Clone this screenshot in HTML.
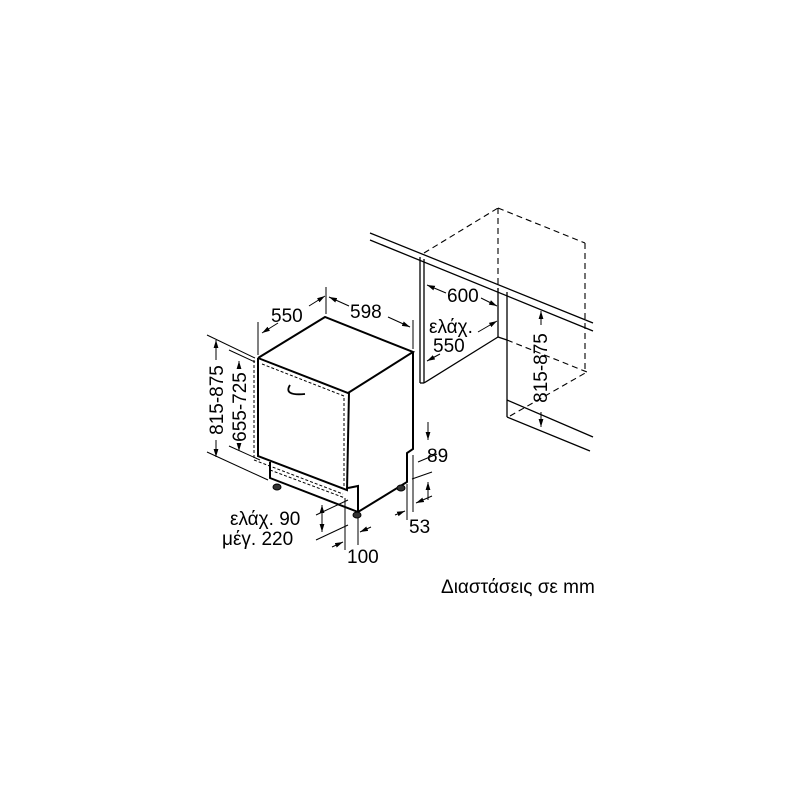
<!DOCTYPE html>
<html><head><meta charset="utf-8"><style>body{margin:0;background:#fff}svg{display:block}</style></head><body>
<svg width="800" height="800" viewBox="0 0 800 800" xmlns="http://www.w3.org/2000/svg" font-family="Liberation Sans, sans-serif" font-size="19" fill="none" stroke="#000">
<defs><marker id="a" viewBox="0 0 10 10" refX="10" refY="5" markerWidth="8" markerHeight="8" orient="auto-start-reverse"><path d="M0,2 L10,5 L0,8z" fill="#000" stroke="none"/></marker></defs>
<g stroke-width="1.3">
<line x1="370" y1="233" x2="593" y2="323"/>
<line x1="370" y1="240" x2="593" y2="331"/>
<line x1="420" y1="257" x2="420" y2="383"/>
<line x1="424" y1="259" x2="424" y2="383"/>
<line x1="420" y1="383" x2="424" y2="383"/>
<line x1="424" y1="383" x2="498" y2="337"/>
<line x1="498" y1="288" x2="498" y2="337"/>
<line x1="507" y1="292" x2="507" y2="400"/>
<line x1="498" y1="337" x2="507" y2="340"/>
<line x1="507" y1="400" x2="593" y2="437"/>
<line x1="507" y1="400" x2="507" y2="417"/>
<line x1="507" y1="417" x2="590" y2="451"/>
</g>
<g stroke-width="1.1" stroke-dasharray="6,4">
<line x1="424" y1="253" x2="498" y2="208"/>
<line x1="498" y1="208" x2="585" y2="243"/>
<line x1="498" y1="208" x2="498" y2="290"/>
<line x1="585" y1="243" x2="585" y2="372"/>
<line x1="507" y1="340" x2="587" y2="372"/>
<line x1="510" y1="416" x2="587" y2="372"/>
</g>
<g stroke-width="2">
<polyline points="258,358 325,317 413,352 348,393 258,358"/>
<polyline points="258,358 258,456 347,490 349,392"/>
<polyline points="413,352 413,449 407,453 407,482 358,512 358,486 348,488"/>
<polyline points="270,462 270,478 358,512"/>
</g>
<g stroke-width="1" stroke-dasharray="3,2">
<polyline points="254,360 254,460 343,494"/>
<polyline points="262,364 344,396 344,486"/>
<line x1="270" y1="470" x2="345" y2="498"/>
</g>
<path d="M290,385 Q283,396 305,394" stroke-width="1.8"/>
<g fill="#333" stroke="#000" stroke-width="1"><ellipse cx="277" cy="487" rx="4" ry="3"/><ellipse cx="357" cy="515" rx="4" ry="3"/><ellipse cx="401" cy="488" rx="4" ry="3"/></g>
<g stroke-width="1">
<line x1="258" y1="355" x2="258" y2="322"/><line x1="326" y1="314" x2="326" y2="287"/><line x1="413" y1="349" x2="413" y2="320"/>
<line x1="262" y1="333" x2="278" y2="323" marker-start="url(#a)"/><line x1="309" y1="306" x2="325" y2="296" marker-end="url(#a)"/>
<line x1="329" y1="297" x2="349" y2="306" marker-start="url(#a)"/><line x1="388" y1="317" x2="410" y2="327" marker-end="url(#a)"/>
<line x1="207" y1="335" x2="255" y2="358"/><line x1="207" y1="452" x2="268" y2="480"/>
<line x1="229" y1="350" x2="255" y2="362"/><line x1="229" y1="446" x2="260" y2="460"/>
<line x1="216" y1="340" x2="216" y2="360" marker-start="url(#a)"/><line x1="216" y1="440" x2="216" y2="457" marker-end="url(#a)"/>
<line x1="239" y1="361" x2="239" y2="367" marker-start="url(#a)"/><line x1="239" y1="447" x2="239" y2="451" marker-end="url(#a)"/>
<line x1="427" y1="285" x2="446" y2="293" marker-start="url(#a)"/><line x1="481" y1="298" x2="497" y2="306" marker-end="url(#a)"/>
<line x1="427" y1="361" x2="440" y2="354" marker-start="url(#a)"/><line x1="478" y1="332" x2="497" y2="321" marker-end="url(#a)"/>
<line x1="541" y1="311" x2="541" y2="325" marker-start="url(#a)"/><line x1="541" y1="412" x2="541" y2="427" marker-end="url(#a)"/>
<line x1="418" y1="462" x2="437" y2="454"/><line x1="412" y1="479" x2="432" y2="472"/>
<line x1="428" y1="422" x2="428" y2="440" marker-end="url(#a)"/><line x1="428" y1="500" x2="428" y2="482" marker-end="url(#a)"/>
<line x1="413" y1="455" x2="413" y2="512"/><line x1="407" y1="484" x2="407" y2="520"/>
<line x1="416" y1="503" x2="432" y2="496" marker-start="url(#a)"/><line x1="395" y1="515" x2="405" y2="511" marker-end="url(#a)"/>
<line x1="316" y1="515" x2="348" y2="500"/><line x1="316" y1="540" x2="348" y2="525"/>
<line x1="322" y1="505" x2="322" y2="532" marker-start="url(#a)" marker-end="url(#a)"/>
<line x1="345" y1="498" x2="345" y2="550"/><line x1="358" y1="518" x2="358" y2="545"/>
<line x1="332" y1="547" x2="343" y2="542" marker-end="url(#a)"/><line x1="371" y1="527" x2="360" y2="532" marker-end="url(#a)"/>
</g>
<g fill="#000" stroke="none">
<text x="271" y="322">550</text>
<text x="350" y="318">598</text>
<text x="447" y="302">600</text>
<text x="429" y="333">ελάχ.</text>
<text x="433" y="352">550</text>
<text x="427" y="462">89</text>
<text x="409" y="533">53</text>
<text x="230" y="525">ελάχ. 90</text>
<text x="222" y="545">μέγ. 220</text>
<text x="347" y="563">100</text>
<text x="441" y="593">Διαστάσεις σε mm</text>
<text transform="translate(223,400) rotate(-90)" text-anchor="middle">815-875</text>
<text transform="translate(246,407) rotate(-90)" text-anchor="middle">655-725</text>
<text transform="translate(547,368) rotate(-90)" text-anchor="middle">815-875</text>
</g>
</svg>
</body></html>
